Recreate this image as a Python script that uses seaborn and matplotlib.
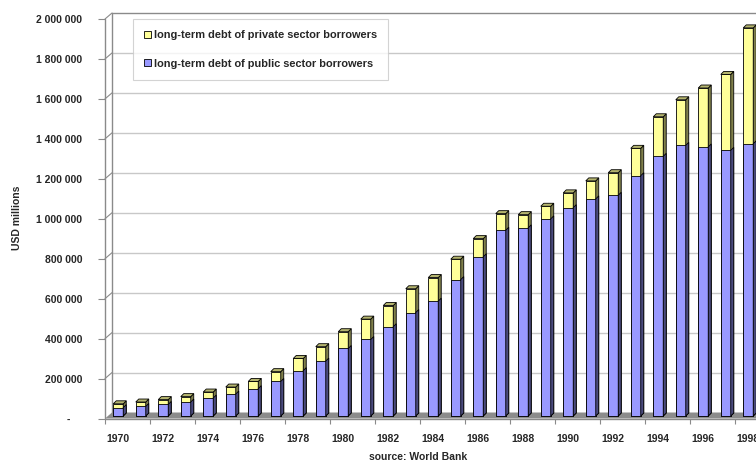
import matplotlib
matplotlib.use("Agg")
import matplotlib.pyplot as plt
from matplotlib.patches import Polygon, Patch
from matplotlib.transforms import ScaledTranslation
import seaborn as sns

# Long-term debt stocks, USD millions
years = list(range(1970, 1999))
public_debt = [42000, 48000, 58000, 70000, 90000, 110000, 137000, 173000, 227000, 275000,
               338000, 383000, 447000, 518000, 575000, 683000, 797000, 930000, 942000, 987000,
               1043000, 1087000, 1105000, 1203000, 1300000, 1355000, 1347000, 1330000, 1363000]
private_debt = [19000, 22000, 24000, 27000, 30000, 35000, 36000, 49000, 61000, 72000,
                84000, 102000, 106000, 119000, 118000, 102000, 91000, 83000, 66000, 63000,
                74000, 90000, 113000, 137000, 198000, 228000, 295000, 380000, 580000]
total_debt = [a + b for a, b in zip(public_debt, private_debt)]
year_labels = [str(y) for y in years]
ytick_values = list(range(0, 2000001, 200000))

label_private = "long-term debt of private sector borrowers"
label_public = "long-term debt of public sector borrowers"
source_text = "source: World Bank"
ylabel_text = "USD millions"

PUB_FRONT, PUB_SIDE = "#9999FF", "#4B4B7E"
PRI_FRONT, PRI_SIDE, PRI_TOP = "#FFFF99", "#80804C", "#B5B56E"
FLOOR = "#8C8C8C"
GRID = "#C8C8C8"
WALL = "#8A8A8A"

sns.set_style("white")
plt.rcParams["font.family"] = ["Liberation Sans", "DejaVu Sans"]
plt.rcParams["font.weight"] = "bold"

W, H, DPI = 756, 461, 100
fig = plt.figure(figsize=(W / DPI, H / DPI), dpi=DPI)
# front plane of the 3-D box (extends slightly past the right edge)
ax_l, ax_r, ax_t, ax_b = 105, 105 + 29 * 22.5, 19, 418.5
ax = fig.add_axes([ax_l / W, 1 - ax_b / H, (ax_r - ax_l) / W, (ax_b - ax_t) / H])
ax.set_facecolor("none")

n = len(years)
xmin, xmax, ymax = -0.5, n - 0.5, 2000000
px_x = (xmax - xmin) / (ax_r - ax_l)
px_y = ymax / (ax_b - ax_t)

# stacked bars: total first (yellow), public on top of it (blue)
sns.barplot(x=year_labels, y=total_debt, color=PRI_FRONT, saturation=1, width=0.444,
            errorbar=None, edgecolor="black", linewidth=0.6, ax=ax)
n_pri = len(ax.patches)
sns.barplot(x=year_labels, y=public_debt, color=PUB_FRONT, saturation=1, width=0.444,
            errorbar=None, edgecolor="black", linewidth=0.6, ax=ax)
pri_bars = ax.patches[:n_pri]
pub_bars = ax.patches[n_pri:]

ax.set_xlim(xmin, xmax)
ax.set_ylim(0, ymax)

# bars stand at mid-depth of the floor
bar_tr = ax.transData + ScaledTranslation(2 / DPI, 2.5 / DPI, fig.dpi_scale_trans)
dx, dy = 3 * px_x, 3 * px_y

for p in pri_bars:
    p.set_transform(bar_tr)
    p.set_zorder(3)
    x0, w, h = p.get_x(), p.get_width(), p.get_height()
    side = Polygon([(x0 + w, 0), (x0 + w + dx, dy), (x0 + w + dx, h + dy), (x0 + w, h)],
                   closed=True, facecolor=PRI_SIDE, edgecolor="black", lw=0.6,
                   transform=bar_tr, zorder=3)
    top = Polygon([(x0, h), (x0 + w, h), (x0 + w + dx, h + dy), (x0 + dx, h + dy)],
                  closed=True, facecolor=PRI_TOP, edgecolor="black", lw=0.6,
                  transform=bar_tr, zorder=3)
    ax.add_patch(side)
    ax.add_patch(top)

for p in pub_bars:
    p.set_transform(bar_tr)
    p.set_zorder(4)
    x0, w, h = p.get_x(), p.get_width(), p.get_height()
    side = Polygon([(x0 + w, 0), (x0 + w + dx, dy), (x0 + w + dx, h + dy), (x0 + w, h)],
                   closed=True, facecolor=PUB_SIDE, edgecolor="black", lw=0.6,
                   transform=bar_tr, zorder=4)
    ax.add_patch(side)

# back wall, side wall and floor
ox, oy = 7 * px_x, 6 * px_y
far = xmax + 2
floor = Polygon([(xmin, 0), (far, 0), (far + ox, oy), (xmin + ox, oy)], closed=True,
                facecolor=FLOOR, edgecolor="none", zorder=1, clip_on=False)
ax.add_patch(floor)
for v in ytick_values[1:]:
    col = WALL if v == ymax else GRID
    ax.plot([xmin + ox, far], [v + oy, v + oy], color=col, lw=1, zorder=0.5, clip_on=False)
    ax.plot([xmin, xmin + ox], [v, v + oy], color=WALL, lw=0.8, zorder=0.5, clip_on=False)
ax.plot([xmin, xmin], [0, ymax], color=WALL, lw=1, zorder=0.6, clip_on=False)
ax.plot([xmin + ox, xmin + ox], [oy, ymax + oy], color=WALL, lw=1, zorder=0.6, clip_on=False)
ax.plot([xmin, far], [0, 0], color=WALL, lw=1, zorder=1.2, clip_on=False)

for s in ax.spines.values():
    s.set_visible(False)

# y axis
ax.set_yticks(ytick_values)
ax.set_yticklabels(["-" if v == 0 else f"{v:,}".replace(",", " ") for v in ytick_values])
ax.tick_params(axis="y", which="major", left=True, length=5, width=0.8, color=WALL,
               pad=11.5, labelsize=7.5)
zero_lbl = ax.yaxis.get_major_ticks()[0].label1
zero_lbl.set_transform(zero_lbl.get_transform()
                       + ScaledTranslation(-12 / DPI, 0, fig.dpi_scale_trans))
ax.set_ylabel("")

# x axis: labels every second year, tick marks at category boundaries
label_pos = [i + 2 * px_x for i in range(0, n, 2)]
ax.set_xticks(label_pos)
ax.set_xticklabels(year_labels[::2])
ax.set_xticks([i - 0.5 for i in range(0, n, 2)], minor=True)
ax.tick_params(axis="x", which="major", bottom=True, length=0, pad=11, labelsize=7.5)
ax.tick_params(axis="x", which="minor", bottom=True, length=3.6, width=0.8, color=WALL)
ax.set_xlabel("")
for lbl in ax.get_xticklabels() + ax.get_yticklabels():
    lbl.set_fontweight("bold")

fig.text(17 / W, 1 - 218 / H, ylabel_text, rotation=90, ha="center", va="center",
         fontsize=7.5, fontweight="bold")
fig.text(418 / W, 1 - 457 / H, source_text, ha="center", va="center",
         fontsize=7.5, fontweight="bold")

handles = [Patch(facecolor=PRI_FRONT, edgecolor="black", lw=0.6, label=label_private),
           Patch(facecolor=PUB_FRONT, edgecolor="black", lw=0.6, label=label_public)]
leg = fig.legend(handles=handles, loc="upper left", bbox_to_anchor=(133 / W, 1 - 19 / H),
                 fontsize=7.9, frameon=True, fancybox=False, borderpad=1.0,
                 labelspacing=1.7, handlelength=0.6, handleheight=0.6,
                 handletextpad=0.3, borderaxespad=0)
leg.get_frame().set_edgecolor("#C8C8C8")
leg.get_frame().set_linewidth(0.8)
for t in leg.get_texts():
    t.set_fontweight("bold")

fig.savefig("out.png", dpi=DPI)
